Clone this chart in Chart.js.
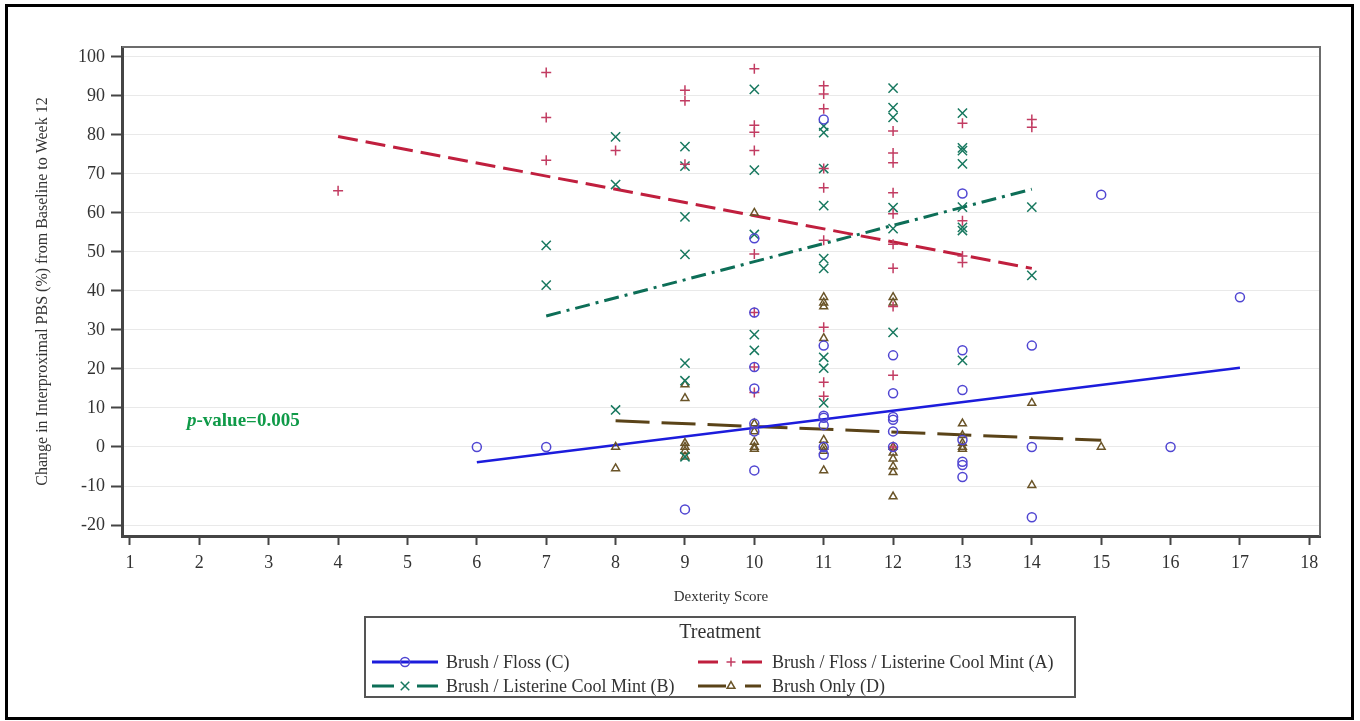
<!DOCTYPE html>
<html>
<head>
<meta charset="utf-8">
<title>Change in Interproximal PBS by Dexterity Score</title>
<script src="https://cdn.jsdelivr.net/npm/chart.js@4.4.1/dist/chart.umd.min.js"></script>
<style>
  html, body { margin: 0; padding: 0; background: #fff; }
</style>
</head>
<body>
<canvas id="chart" width="1360" height="721"></canvas>
<script>
'use strict';
var serif = "'Liberation Serif', 'Times New Roman', serif";

// tick labels
var xTicks = [1, 2, 3, 4, 5, 6, 7, 8, 9, 10, 11, 12, 13, 14, 15, 16, 17, 18];
var yTicks = [-20, -10, 0, 10, 20, 30, 40, 50, 60, 70, 80, 90, 100];

// dexterity scores and the PBS changes (%) seen at each score, per treatment
var scoresC = [6, 7, 9, 10, 11, 12, 13, 14, 15, 16, 17];
var changesC = [[0], [0], [-16], [53.5, 34.5, 20.5, 15, 6, 4, -6], [84, 26, 8, 7.5, 5.6, 0, -2],
  [23.5, 13.8, 7.7, 7, 4, 0], [65, 24.8, 14.6, 1.8, -3.8, -4.6, -7.7], [26, 0, -18], [64.7], [0], [38.4]];

var scoresA = [4, 7, 8, 9, 10, 11, 12, 13, 14];
var changesA = [[65.7], [96, 84.5, 73.5], [76], [91.5, 88.8, 72.5], [97, 82.5, 80.7, 76, 49.5, 34.5, 20.5, 14],
  [92.6, 90.5, 86.7, 71.4, 66.5, 53, 30.7, 16.6, 13], [81, 75.4, 72.9, 65.2, 59.8, 52, 45.8, 36, 18.4, 0],
  [83, 58, 49, 47.3], [84, 82]];

var scoresB = [7, 8, 9, 10, 11, 12, 13, 14];
var changesB = [[51.7, 41.5], [79.5, 67.3, 9.5], [77, 72, 59, 49.4, 21.5, 17, -2.5], [91.7, 71, 54.5, 28.8, 24.8],
  [82.3, 80.6, 71.4, 61.9, 48.3, 45.8, 23, 20.2, 11.3], [92, 87, 84.5, 61.4, 56, 29.4],
  [85.6, 76.7, 76, 72.6, 61.5, 56.3, 55.5, 22.2], [61.5, 44]];

var scoresD = [8, 9, 10, 11, 12, 13, 14, 15];
var changesD = [[0, -5.5], [16, 12.5, 1, 0, -1, -2.5], [60, 6, 4, 1.3, 0, -0.5], [38.4, 37, 36, 27.9, 1.8, 0, -1, -6],
  [38.4, 37, 0, -1.5, -3, -5, -6.5, -12.7], [6, 3, 1, 0, -0.5], [11.3, -9.8], [0]];

// fitted line end points (score, change)
var fitC = [[6, -3.9], [17, 20.3]];
var fitA = [[4, 79.6], [14, 45.8]];
var fitB = [[7, 33.6], [14, 66.1]];
var fitD = [[8, 6.7], [15, 1.7]];

var legendNames = ['Brush / Floss (C)', 'Brush / Floss / Listerine Cool Mint (A)',
  'Brush / Listerine Cool Mint (B)', 'Brush Only (D)'];

var colC = '#5046d2', lineC = '#1c1cdc';
var colA = '#c23c62', lineA = '#c01f3e';
var colB = '#17785f', lineB = '#0d6e57';
var colD = '#6a5428', lineD = '#5a4318';

function toPoints(scores, changes) {
  var pts = [];
  for (var i = 0; i < scores.length; i++) {
    for (var j = 0; j < changes[i].length; j++) {
      pts.push({x: scores[i], y: changes[i][j]});
    }
  }
  return pts;
}
function fitPoints(fit) {
  return fit.map(function(p) { return {x: p[0], y: p[1]}; });
}
function markerSet(pts, color, style, radius) {
  return {data: pts, pointStyle: style, pointRadius: radius, borderColor: color, borderWidth: 1.5,
    backgroundColor: 'rgba(0,0,0,0)', showLine: false};
}
function fitSet(pts, color, dash, width) {
  return {data: pts, showLine: true, borderColor: color, borderWidth: width, borderDash: dash,
    pointRadius: 0, fill: false};
}
function setTicks(values) {
  return function(scale) {
    scale.ticks = values.map(function(v) { return {value: v}; });
  };
}

// draws the outer frame, the p-value note and the treatment legend
var decor = {
  id: 'decor',
  beforeDraw: function(chart) {
    var ctx = chart.ctx;
    ctx.save();
    ctx.fillStyle = '#fff';
    ctx.fillRect(0, 0, chart.width, chart.height);
    ctx.restore();
  },
  beforeDatasetsDraw: function(chart) {
    var a = chart.chartArea, ctx = chart.ctx;
    ctx.save();
    ctx.strokeStyle = '#6c6c6c';
    ctx.lineWidth = 2;
    ctx.beginPath();
    ctx.moveTo(a.left, a.top);
    ctx.lineTo(a.right, a.top);
    ctx.lineTo(a.right, a.bottom);
    ctx.stroke();
    ctx.restore();
  },
  afterDraw: function(chart) {
    var ctx = chart.ctx;
    ctx.save();
    ctx.strokeStyle = '#000';
    ctx.lineWidth = 3;
    ctx.strokeRect(6.5, 5.5, 1346, 713);

    // p-value
    ctx.fillStyle = '#0f9a48';
    ctx.textBaseline = 'alphabetic';
    ctx.textAlign = 'left';
    ctx.font = 'italic bold 19px ' + serif;
    ctx.fillText('p', 187, 426);
    var w = ctx.measureText('p').width;
    ctx.font = 'bold 19px ' + serif;
    ctx.fillText('-value=0.005', 187 + w, 426);

    // legend box
    ctx.strokeStyle = '#555';
    ctx.lineWidth = 2;
    ctx.strokeRect(365, 617, 710, 80);
    ctx.fillStyle = '#333';
    ctx.textAlign = 'center';
    ctx.textBaseline = 'middle';
    ctx.font = '20px ' + serif;
    ctx.fillText('Treatment', 720, 633);

    var items = [
      {x: 372, y: 662, color: lineC, mark: colC, style: 'circle', segs: [[0, 66]]},
      {x: 698, y: 662, color: lineA, mark: colA, style: 'cross', segs: [[0, 20], [44, 64]]},
      {x: 372, y: 686, color: lineB, mark: colB, style: 'crossRot', segs: [[0, 22], [45, 66]]},
      {x: 698, y: 686, color: lineD, mark: colD, style: 'triangle', segs: [[0, 28], [47, 63]]}
    ];
    ctx.font = '18px ' + serif;
    ctx.textAlign = 'left';
    items.forEach(function(it, i) {
      ctx.strokeStyle = it.color;
      ctx.lineWidth = 3;
      ctx.beginPath();
      it.segs.forEach(function(s) {
        ctx.moveTo(it.x + s[0], it.y);
        ctx.lineTo(it.x + s[1], it.y);
      });
      ctx.stroke();
      ctx.strokeStyle = it.mark;
      ctx.fillStyle = 'rgba(0,0,0,0)';
      ctx.lineWidth = 1.5;
      Chart.helpers.drawPoint(ctx, {pointStyle: it.style, radius: it.style === 'crossRot' ? 6 : 4.5,
        borderWidth: 1.5, rotation: 0}, it.x + 33, it.y);
      ctx.fillStyle = '#333';
      ctx.fillText(legendNames[i], it.x + 74, it.y + 1);
    });
    ctx.restore();
  }
};

var ctx = document.getElementById('chart').getContext('2d');
var chart = new Chart(ctx, {
  type: 'scatter',
  data: {
    datasets: [
      markerSet(toPoints(scoresC, changesC), colC, 'circle', 4.5),
      markerSet(toPoints(scoresA, changesA), colA, 'cross', 5),
      markerSet(toPoints(scoresB, changesB), colB, 'crossRot', 6.5),
      markerSet(toPoints(scoresD, changesD), colD, 'triangle', 4.5),
      fitSet(fitPoints(fitC), lineC, [], 2.5),
      fitSet(fitPoints(fitA), lineA, [20, 8], 3),
      fitSet(fitPoints(fitB), lineB, [15, 6, 3, 6], 3),
      fitSet(fitPoints(fitD), lineD, [34, 12], 3)
    ]
  },
  options: {
    responsive: false,
    animation: false,
    layout: {padding: {top: 47, right: 40, bottom: 0, left: 0}},
    plugins: {legend: {display: false}, tooltip: {enabled: false}},
    scales: {
      x: {
        type: 'linear', min: 0.885, max: 18.154,
        afterFit: function(s) { s.height = 185; },
        afterBuildTicks: setTicks(xTicks),
        ticks: {autoSkip: false, padding: 7, color: '#333', font: {family: serif, size: 18}},
        grid: {drawOnChartArea: false, tickLength: 9, tickColor: '#444', tickWidth: 2},
        border: {color: '#454545', width: 3},
        title: {display: true, text: 'Dexterity Score', color: '#333', font: {family: serif, size: 15},
          padding: {top: 0, bottom: 115}}
      },
      y: {
        type: 'linear', min: -22.82, max: 102.56,
        afterFit: function(s) { s.width = 122; },
        afterBuildTicks: setTicks(yTicks),
        ticks: {autoSkip: false, padding: 6, color: '#333', font: {family: serif, size: 18}},
        grid: {color: '#e9e9e9', lineWidth: 1, tickLength: 11, tickColor: '#444', tickWidth: 2},
        border: {color: '#454545', width: 3},
        title: {display: true, text: 'Change in Interproximal PBS (%) from Baseline to Week 12', color: '#333',
          font: {family: serif, size: 16}, padding: {top: 33, bottom: 0}}
      }
    }
  },
  plugins: [decor]
});
</script>
</body>
</html>
